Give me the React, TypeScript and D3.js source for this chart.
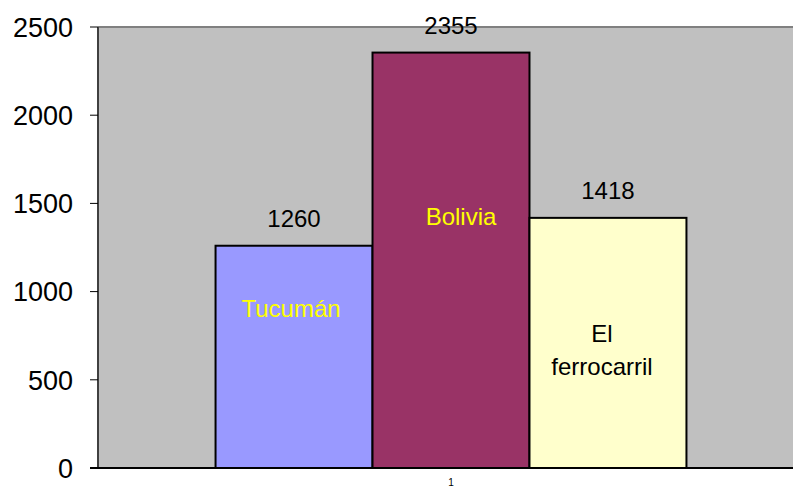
import React from "react";
import * as d3 from "d3";

const categories = ["1"];
const seriesNames = ["Tucumán", "Bolivia", "El ferrocarril"];
const seriesValues = [1260, 2355, 1418];
const seriesColors = ["#9999ff", "#993366", "#ffffcc"];
const yTicks = [0, 500, 1000, 1500, 2000, 2500];
// inside-bar annotations: lines, vertical anchor in data units, colour
const annotationLines = [["Tucumán"], ["Bolivia"], ["El", "ferrocarril"]];
const annotationValues = [857, 1378, 714];
const annotationColors = ["#ffff00", "#ffff00", "#000000"];
const annotationDx = [-3, 10, -6];

const W = 793;
const H = 487;
const plotLeft = 98;
const plotRight = 804;
const plotTop = 27;
const plotBottom = 468;
const FONT = "'Liberation Sans', Arial, sans-serif";

export default function App() {
  const y = d3.scaleLinear().domain([0, 2500]).range([plotBottom, plotTop]);
  const x0 = d3.scaleBand<string>().domain(categories).range([plotLeft, plotRight]).padding(0);
  const cx = (x0(categories[0]) ?? 0) + x0.bandwidth() / 2;
  const groupW = x0.bandwidth() * 0.667;
  const x1 = d3
    .scaleBand<string>()
    .domain(seriesNames)
    .range([cx - groupW / 2, cx + groupW / 2])
    .padding(0);

  return (
    <svg
      width={W}
      height={H}
      style={{ position: "absolute", left: 0, top: 0, display: "block", background: "#fff" }}
      fontFamily={FONT}
    >
      <rect x={plotLeft} y={plotTop} width={plotRight - plotLeft} height={plotBottom - plotTop} fill="#c0c0c0" />
      <line x1={plotLeft} x2={plotRight} y1={plotTop} y2={plotTop} stroke="#808080" strokeWidth={2} />
      {seriesNames.map((s, i) => {
        const bx = x1(s) ?? 0;
        const top = y(seriesValues[i]);
        return (
          <rect
            key={s}
            x={bx}
            y={top}
            width={x1.bandwidth()}
            height={plotBottom - top}
            fill={seriesColors[i]}
            stroke="#000"
            strokeWidth={2}
          />
        );
      })}
      {/* axes */}
      <line x1={plotLeft} x2={plotLeft} y1={plotTop} y2={plotBottom} stroke="#404040" strokeWidth={2} />
      <line x1={plotLeft - 8} x2={plotRight} y1={plotBottom} y2={plotBottom} stroke="#000" strokeWidth={2} />
      {yTicks.map((t) => (
        <g key={t}>
          <line x1={plotLeft - 8} x2={plotLeft} y1={y(t)} y2={y(t)} stroke="#000" strokeWidth={1} />
          <text x={73} y={y(t)} dy="0.36em" textAnchor="end" fontSize={27} fill="#000">
            {t}
          </text>
        </g>
      ))}
      <text x={cx} y={486} textAnchor="middle" fontSize={10} fill="#000">
        {categories[0]}
      </text>
      {/* value labels */}
      {seriesNames.map((s, i) => (
        <text
          key={s}
          x={(x1(s) ?? 0) + x1.bandwidth() / 2}
          y={y(seriesValues[i]) - 19}
          textAnchor="middle"
          fontSize={24}
          fill="#000"
        >
          {seriesValues[i]}
        </text>
      ))}
      {/* annotations */}
      {seriesNames.map((s, i) => (
        <text
          key={s}
          x={(x1(s) ?? 0) + x1.bandwidth() / 2 + annotationDx[i]}
          y={y(annotationValues[i])}
          textAnchor="middle"
          fontSize={24}
          fill={annotationColors[i]}
        >
          {annotationLines[i].map((ln, j) => (
            <tspan key={j} x={(x1(s) ?? 0) + x1.bandwidth() / 2 + annotationDx[i]} dy={j === 0 ? 0 : 33}>
              {ln}
            </tspan>
          ))}
        </text>
      ))}
    </svg>
  );
}
